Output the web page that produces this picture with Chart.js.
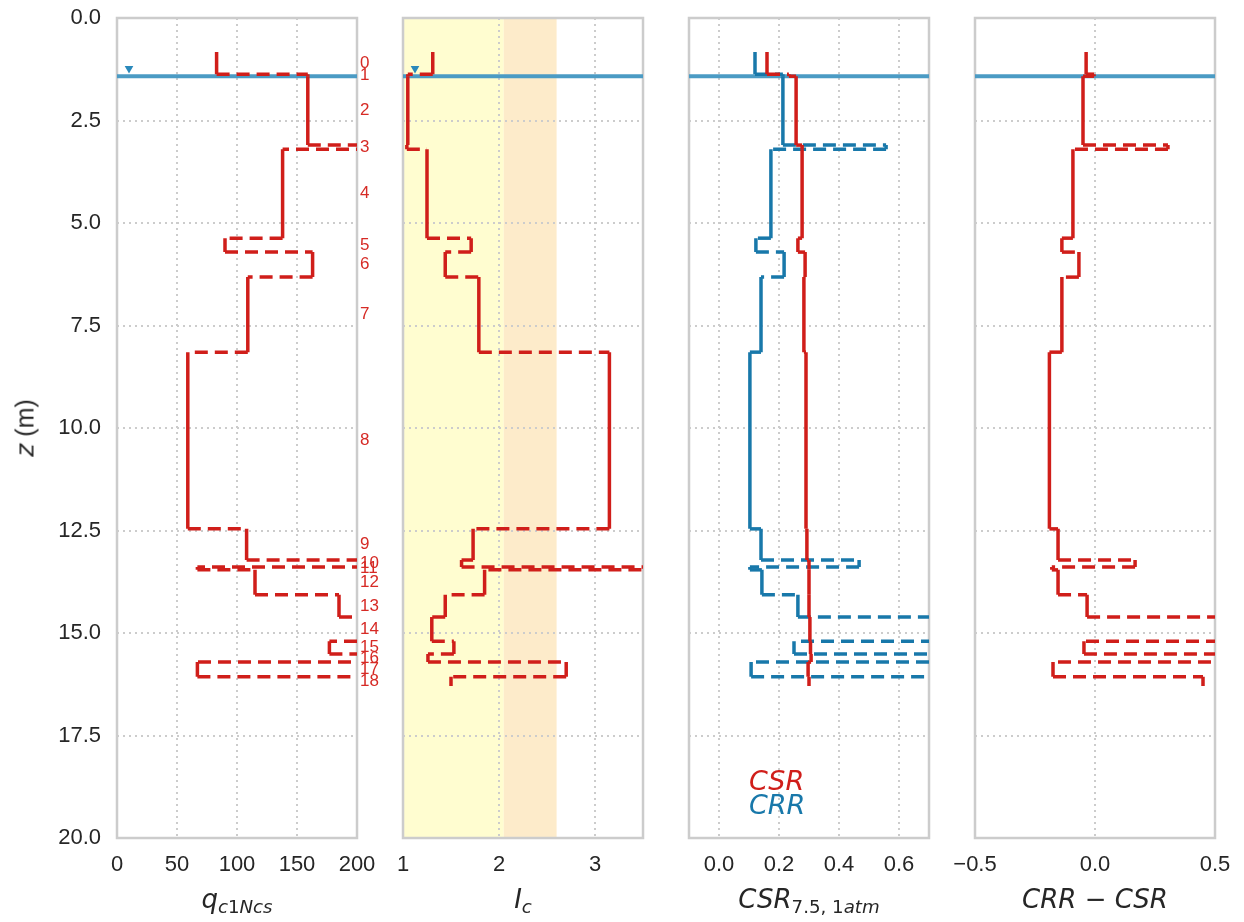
<!DOCTYPE html>
<html lang="en">
<head>
<meta charset="UTF-8">
<title>CPT liquefaction profile</title>
<style>
  body {
    margin: 0;
    width: 1244px;
    height: 922px;
    position: relative;
    overflow: hidden;
    background: #ffffff;
    font-family: "Liberation Sans", Arial, sans-serif;
    color: #262626;
  }
  .panel {
    position: absolute;
    left: 0;
    top: 0;
    width: 1244px;
    height: 922px;
  }
  .xtitle {
    position: absolute;
    top: 884px;
    line-height: 30px;
    transform: translateX(-50%);
    font-family: "DejaVu Sans", sans-serif;
    font-size: 26px;
    font-style: italic;
    white-space: nowrap;
  }
  .xtitle sub {
    font-size: 70%;
    vertical-align: -0.25em;
  }
  .up { font-style: normal; }
  #ytitle {
    position: absolute;
    left: 25px;
    top: 428px;
    transform: translate(-50%, -50%) rotate(-90deg);
    font-size: 25px;
    white-space: nowrap;
  }
  #ytitle i { font-family: "DejaVu Sans", sans-serif; }
</style>
</head>
<body>
  <div class="panel"><canvas id="qChart"></canvas></div>
  <div class="panel"><canvas id="icChart"></canvas></div>
  <div class="panel"><canvas id="csrChart"></canvas></div>
  <div class="panel"><canvas id="fosChart"></canvas></div>

  <div id="ytitle"><i>z</i> (m)</div>
  <div class="xtitle" style="left:237px">q<sub>c<span class="up">1</span>Ncs</sub></div>
  <div class="xtitle" style="left:523px">I<sub>c</sub></div>
  <div class="xtitle" style="left:809px">CSR<sub><span class="up">7.5, 1</span>atm</sub></div>
  <div class="xtitle" style="left:1095px">CRR <span class="up">&minus;</span> CSR</div>

  <script src="https://cdn.jsdelivr.net/npm/chart.js@4"></script>
  <script>
    // layer geometry (depth in m)
    const layerIds = [0, 1, 2, 3, 4, 5, 6, 7, 8, 9, 10, 11, 12, 13, 14, 15, 16, 17, 18];
    const layerTop = [0.83, 1.37, 1.42, 3.10, 3.20, 5.37, 5.71, 6.32, 8.15, 12.46, 13.22, 13.39, 13.46, 14.07, 14.61, 15.20, 15.51, 15.71, 16.07];
    const layerBottom = [1.37, 1.42, 3.10, 3.20, 5.37, 5.71, 6.32, 8.15, 12.46, 13.22, 13.39, 13.46, 14.07, 14.61, 15.20, 15.51, 15.71, 16.07, 16.29];

    // per-layer values
    const qc1ncs = [83, 159, 159, 260, 138, 90, 163, 109, 59, 108, 240, 67, 115, 185, 250, 177, 245, 67, 230];
    const icValues = [1.31, 1.05, 1.05, 1.04, 1.25, 1.71, 1.44, 1.79, 3.15, 1.73, 1.61, 3.9, 1.85, 1.44, 1.30, 1.53, 1.26, 2.70, 1.50];
    const csrValues = [0.16, 0.233, 0.257, 0.277, 0.277, 0.263, 0.287, 0.283, 0.29, 0.293, 0.30, 0.30, 0.30, 0.30, 0.303, 0.305, 0.307, 0.297, 0.30];
    const crrValues = [0.12, 0.213, 0.213, 0.557, 0.173, 0.123, 0.217, 0.14, 0.103, 0.14, 0.467, 0.103, 0.143, 0.263, 0.85, 0.25, 0.9, 0.107, 0.76];
    const crrMinusCsr = [-0.037, -0.004, -0.05, 0.304, -0.092, -0.138, -0.067, -0.138, -0.19, -0.154, 0.167, -0.18, -0.154, -0.033, 0.6, -0.046, 0.65, -0.175, 0.45];

    const waterDepth = 1.42;
    const waterMarkDepth = 1.23;

    // axis ticks
    const yTicks = [0, 2.5, 5, 7.5, 10, 12.5, 15, 17.5, 20];
    const qTicks = [0, 50, 100, 150, 200];
    const icTicks = [1, 2, 3];
    const csrTicks = [0, 0.2, 0.4, 0.6];
    const fosTicks = [-0.5, 0, 0.5];
    const icZoneEdges = [1, 2.05, 2.6];

    const RED = '#d01e1a';
    const BLUE = '#1878aa';
    const WATER = '#4b9bc4';
    const GRID = '#cccccc';
    const TICK_FONT = { size: 22, family: '"Liberation Sans", Arial, sans-serif' };

    Chart.defaults.font.family = '"Liberation Sans", Arial, sans-serif';
    Chart.defaults.color = '#262626';

    function stepPoints(values) {
      const pts = [];
      values.forEach((v, i) => {
        pts.push({ x: v, y: layerTop[i] });
        pts.push({ x: v, y: layerBottom[i] });
      });
      return pts;
    }

    function trace(values, color, order) {
      return {
        data: stepPoints(values),
        showLine: true,
        borderColor: color,
        borderWidth: 3.5,
        borderCapStyle: 'butt',
        pointRadius: 0,
        order: order,
        // horizontal jumps between layers are dashed
        segment: {
          borderDash: ctx => ctx.p0.parsed.y === ctx.p1.parsed.y ? [13, 7] : undefined
        }
      };
    }

    function waterLine(xMin, xMax) {
      return {
        data: [{ x: xMin, y: waterDepth }, { x: xMax, y: waterDepth }],
        showLine: true,
        borderColor: WATER,
        borderWidth: 4,
        pointRadius: 0,
        order: 5
      };
    }

    function waterMark(x) {
      return {
        data: [{ x: x, y: waterMarkDepth }],
        pointStyle: 'triangle',
        rotation: 180,
        pointRadius: 5,
        backgroundColor: '#2a89bb',
        borderWidth: 0,
        order: 4
      };
    }

    function xScale(min, max, ticks, fmt) {
      return {
        type: 'linear',
        min: min,
        max: max,
        afterBuildTicks: s => { s.ticks = ticks.map(v => ({ value: v })); },
        afterFit: s => { s.height = 84; s.paddingLeft = 0; s.paddingRight = 0; },
        grid: { color: GRID, lineWidth: 2, drawTicks: false },
        border: { display: false, dash: [2, 4] },
        ticks: { font: TICK_FONT, color: '#262626', padding: 14, autoSkip: false, maxRotation: 0, callback: v => fmt(v) }
      };
    }

    function yScale(showLabels, width) {
      return {
        type: 'linear',
        reverse: true,
        min: 0,
        max: 20,
        afterBuildTicks: s => { s.ticks = yTicks.map(v => ({ value: v })); },
        afterFit: s => { s.width = width; s.paddingTop = 0; s.paddingBottom = 0; },
        grid: { color: GRID, lineWidth: 2, drawTicks: false },
        border: { display: false, dash: [2, 4] },
        ticks: { display: showLabels, font: TICK_FONT, color: '#262626', padding: 16, callback: v => v.toFixed(1) }
      };
    }

    const framePlugin = {
      id: 'frame',
      beforeDatasetsDraw(chart) {
        const a = chart.chartArea;
        const ctx = chart.ctx;
        ctx.save();
        ctx.strokeStyle = GRID;
        ctx.lineWidth = 2.5;
        ctx.strokeRect(a.left, a.top, a.right - a.left, a.bottom - a.top);
        ctx.restore();
      }
    };

    function makePanel(id, left, right, datasets, x, showY, extraPlugins) {
      return new Chart(document.getElementById(id), {
        type: 'scatter',
        data: { datasets: datasets },
        options: {
          responsive: true,
          maintainAspectRatio: false,
          animation: false,
          events: [],
          layout: { padding: { left: showY ? 0 : left, right: 1244 - right, top: 18, bottom: 0 } },
          scales: { x: x, y: yScale(showY, showY ? left : 0) },
          plugins: { legend: { display: false }, tooltip: { enabled: false } }
        },
        plugins: [framePlugin].concat(extraPlugins || [])
      });
    }

    // layer numbers to the right of the first panel
    const layerLabels = {
      id: 'layerLabels',
      afterDatasetsDraw(chart) {
        const ctx = chart.ctx;
        const y = chart.scales.y;
        ctx.save();
        ctx.fillStyle = '#d62a25';
        ctx.font = '17px "Liberation Sans", Arial, sans-serif';
        ctx.textAlign = 'left';
        ctx.textBaseline = 'middle';
        layerIds.forEach((n, i) => {
          const mid = (layerTop[i] + layerBottom[i]) / 2;
          ctx.fillText(String(n), chart.chartArea.right + 3, y.getPixelForValue(mid));
        });
        ctx.restore();
      }
    };

    // soil behaviour bands behind the Ic trace
    const icBands = {
      id: 'icBands',
      beforeDraw(chart) {
        const ctx = chart.ctx;
        const x = chart.scales.x;
        const a = chart.chartArea;
        const fills = ['#fffdd0', '#fdebca'];
        ctx.save();
        for (let i = 0; i < fills.length; i++) {
          const x0 = x.getPixelForValue(icZoneEdges[i]);
          const x1 = x.getPixelForValue(icZoneEdges[i + 1]);
          ctx.fillStyle = fills[i];
          ctx.fillRect(x0, a.top, x1 - x0, a.bottom - a.top);
        }
        ctx.restore();
      }
    };

    const csrLegend = {
      id: 'csrLegend',
      afterDatasetsDraw(chart) {
        const ctx = chart.ctx;
        const xs = chart.scales.x;
        const ys = chart.scales.y;
        ctx.save();
        ctx.font = 'italic 27px "DejaVu Sans", sans-serif';
        ctx.textAlign = 'left';
        ctx.textBaseline = 'middle';
        ctx.fillStyle = RED;
        ctx.fillText('CSR', xs.getPixelForValue(0.1), ys.getPixelForValue(18.65));
        ctx.fillStyle = BLUE;
        ctx.fillText('CRR', xs.getPixelForValue(0.1), ys.getPixelForValue(19.25));
        ctx.restore();
      }
    };

    const fmtPlain = v => String(v);
    const fmtOne = v => (v < 0 ? '\u2212' : '') + Math.abs(v).toFixed(1);

    makePanel('qChart', 117, 357,
      [trace(qc1ncs, RED, 1), waterMark(10), waterLine(0, 200)],
      xScale(0, 200, qTicks, fmtPlain), true, [layerLabels]);

    makePanel('icChart', 403, 643,
      [trace(icValues, RED, 1), waterMark(1.125), waterLine(1, 3.5)],
      xScale(1, 3.5, icTicks, fmtPlain), false, [icBands]);

    makePanel('csrChart', 689, 929,
      [trace(csrValues, RED, 1), trace(crrValues, BLUE, 2), waterLine(-0.1, 0.7)],
      xScale(-0.1, 0.7, csrTicks, fmtOne), false, [csrLegend]);

    makePanel('fosChart', 975, 1215,
      [trace(crrMinusCsr, RED, 1), waterLine(-0.5, 0.5)],
      xScale(-0.5, 0.5, fosTicks, fmtOne), false);
  </script>
</body>
</html>
